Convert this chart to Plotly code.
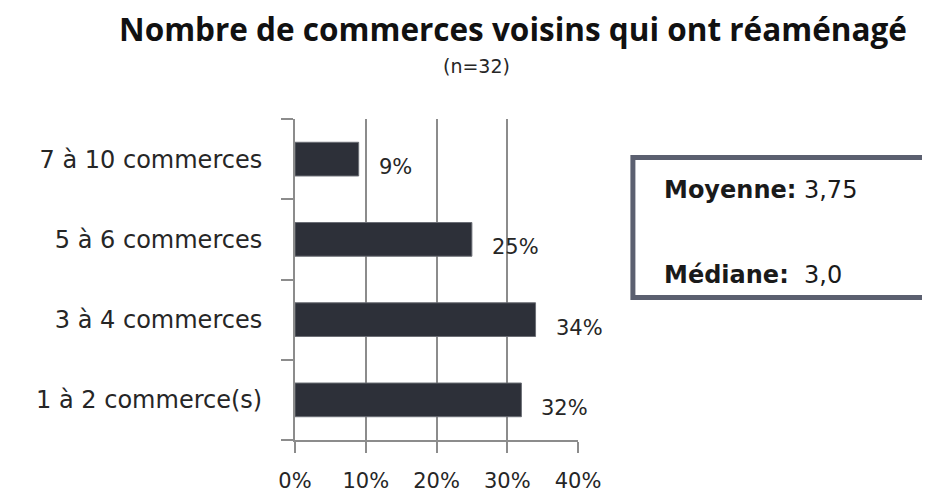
import plotly.graph_objects as go

categories = ["1 à 2 commerce(s)", "3 à 4 commerces", "5 à 6 commerces", "7 à 10 commerces"]
shares = [32, 34, 25, 9]
labels = ["32%", "34%", "25%", "9%"]
x_ticks = [0, 10, 20, 30, 40]
x_tick_text = ["0%", "10%", "20%", "30%", "40%"]

font = "DejaVu Sans"
grey = "#8c8c8c"
ink = "#262626"

fig = go.Figure(go.Bar(
    x=shares,
    y=categories,
    orientation="h",
    marker=dict(color="#2d3039", line=dict(color="#6b6e75", width=1)),
    hoverinfo="skip",
))

# pourcentages a droite des barres
for v, c, t in zip(shares, categories, labels):
    fig.add_annotation(
        x=v, y=c, text=t, showarrow=False,
        xanchor="left", xshift=18, yshift=-8,
        font=dict(family=font, size=21, color=ink),
    )

fig.update_layout(
    width=930,
    height=497,
    margin=dict(l=287, r=360, t=111, b=65),
    paper_bgcolor="white",
    plot_bgcolor="white",
    showlegend=False,
    bargap=0.58,
    title=dict(
        text="<b>Nombre de commerces voisins qui ont réaménagé</b>",
        x=0.543, xanchor="center", y=0.955, yanchor="middle",
        font=dict(family="Open Sans", size=31.5, color="#111111"),
    ),
    xaxis=dict(
        range=[0, 40],
        tickvals=x_ticks,
        ticktext=x_tick_text,
        showgrid=True,
        gridcolor=grey,
        gridwidth=2,
        showline=True,
        linecolor=grey,
        linewidth=2,
        ticks="outside",
        ticklen=11,
        tickwidth=2,
        tickcolor=grey,
        ticklabelstandoff=10,
        zeroline=False,
        tickfont=dict(family=font, size=21, color=ink),
    ),
    yaxis=dict(
        categoryorder="array",
        categoryarray=categories,
        tickson="boundaries",
        showgrid=False,
        showline=True,
        linecolor=grey,
        linewidth=2,
        ticks="outside",
        ticklen=12,
        tickwidth=2,
        tickcolor=grey,
        ticklabelstandoff=26,
        tickfont=dict(family=font, size=24, color=ink),
    ),
)

fig.add_annotation(
    text="(n=32)", xref="paper", yref="paper", x=0.643, y=1.165,
    xanchor="center", yanchor="middle",
    showarrow=False, font=dict(family=font, size=19, color=ink),
)

# encadre moyenne / mediane
fig.add_shape(
    type="rect", xref="paper", yref="paper",
    x0=1.194, x1=2.3, y0=0.444, y1=0.880,
    line=dict(color="#5b6070", width=5), fillcolor="white",
)
fig.add_annotation(
    text="<b>Moyenne:</b> 3,75", xref="paper", yref="paper", x=1.297, y=0.779,
    xanchor="left", yanchor="middle",
    showarrow=False, font=dict(family=font, size=24, color="#1a1a1a"),
)
fig.add_annotation(
    text="<b>Médiane:</b>  3,0", xref="paper", yref="paper", x=1.297, y=0.514,
    xanchor="left", yanchor="middle",
    showarrow=False, font=dict(family=font, size=24, color="#1a1a1a"),
)

fig.write_html("out.html")
